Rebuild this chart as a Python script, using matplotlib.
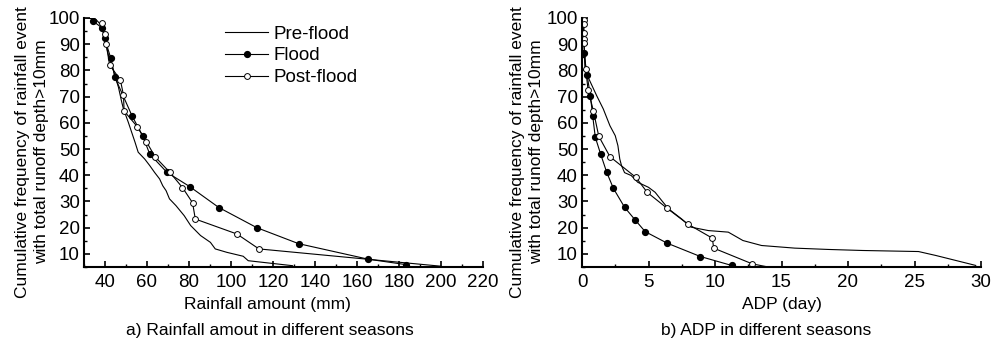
import matplotlib
matplotlib.use("Agg")
import matplotlib.pyplot as plt
from matplotlib.ticker import MultipleLocator

plt.rcParams['font.family'] = ['Liberation Sans', 'DejaVu Sans']
plt.rcParams['font.size'] = 12.5

# a) rainfall amount (mm) vs cumulative frequency (%)
rain_pre_x = [30.8, 35.5, 38.5, 41.7, 44.0, 46.4, 48.0, 48.8, 51.1, 52.7, 54.3, 55.8,
              58.9, 61.3, 63.6, 66.0, 67.5, 69.1, 70.7, 73.8, 77.7, 80.8, 85.5, 90.2,
              92.5, 98.0, 105.8, 108.2, 129.3]
rain_pre_y = [100.0, 99.6, 97.0, 85.6, 80.0, 73.6, 67.8, 65.3, 60.2, 56.4, 52.6, 48.8,
              46.2, 43.7, 41.1, 38.6, 36.0, 34.1, 31.0, 28.4, 24.6, 20.8, 17.0, 14.4,
              11.9, 10.6, 9.1, 7.4, 5.5]

rain_flood_x = [34.5, 38.8, 39.8, 42.8, 44.7, 52.8, 58.0, 61.3, 69.5, 80.3, 94.2,
                112.3, 132.2, 165.2, 183.3]
rain_flood_y = [98.7, 96.1, 92.2, 84.6, 77.4, 62.8, 54.9, 48.1, 41.1, 35.7, 27.7,
                20.0, 13.9, 8.0, 5.9]

rain_post_x = [38.8, 39.8, 40.5, 42.2, 47.3, 48.8, 49.1, 55.3, 59.7, 63.9, 70.9, 76.9,
               81.7, 83.0, 102.8, 113.3]
rain_post_y = [98.1, 93.9, 90.2, 82.1, 76.4, 70.6, 64.5, 58.6, 52.8, 47.0, 41.1, 35.3,
               29.5, 23.3, 17.6, 11.9]
rain_post_tail_x = [113.3, 200.0]
rain_post_tail_y = [11.9, 5.3]

# b) ADP (day) vs cumulative frequency (%)
adp_pre_x = [0.0, 0.08, 0.23, 0.45, 1.1, 1.6, 2.1, 2.5, 2.7, 2.84, 2.97, 3.2, 3.7, 4.2,
             5.0, 5.5, 6.0, 6.5, 7.5, 8.2, 9.5, 11.0, 12.1, 13.5, 16.0, 18.5, 21.1,
             25.3, 26.6, 29.6]
adp_pre_y = [100.0, 98.3, 79.9, 77.5, 70.4, 65.3, 58.9, 55.1, 51.3, 46.2, 43.7, 41.0,
             39.9, 37.3, 35.4, 33.5, 30.3, 27.2, 23.3, 20.2, 18.9, 18.3, 15.1, 13.2,
             12.2, 11.7, 11.3, 10.9, 9.4, 5.6]

adp_flood_x = [0.15, 0.38, 0.63, 0.8, 1.0, 1.4, 1.86, 2.36, 3.2, 3.97, 4.75, 6.4, 8.9,
               11.25]
adp_flood_y = [86.5, 78.3, 70.4, 62.8, 54.5, 48.1, 41.1, 35.0, 27.8, 23.1, 18.5, 14.1,
               9.0, 5.6]

adp_post_x = [0.15, 0.15, 0.15, 0.15, 0.15, 0.28, 0.45, 0.85, 1.26, 2.1, 4.05, 4.9, 6.4,
              7.95, 9.8, 9.9, 12.8]
adp_post_y = [99.4, 97.8, 94.2, 92.0, 90.3, 80.6, 72.7, 64.7, 54.9, 47.1, 39.2, 33.5,
              27.4, 21.4, 16.0, 12.2, 6.2]
adp_post_tail_x = [12.8, 13.8]
adp_post_tail_y = [6.2, 5.2]

W, H = 995, 348
fig = plt.figure(figsize=(W / 100, H / 100), dpi=100)

ax1 = fig.add_axes([84 / W, 1 - 267 / H, 399 / W, 249 / H])
ax2 = fig.add_axes([582 / W, 1 - 267 / H, 399 / W, 249 / H])

lw = 0.8
ms = 4.2

ax1.plot(rain_pre_x, rain_pre_y, color='black', lw=lw, label='Pre-flood')
ax1.plot(rain_flood_x, rain_flood_y, color='black', lw=lw, marker='o', ms=ms,
         mfc='black', mec='black', label='Flood')
ax1.plot(rain_post_tail_x, rain_post_tail_y, color='black', lw=lw)
ax1.plot(rain_post_x, rain_post_y, color='black', lw=lw, marker='o', ms=ms,
         mfc='white', mec='black', mew=0.7, label='Post-flood')

ax2.plot(adp_pre_x, adp_pre_y, color='black', lw=lw)
ax2.plot(adp_flood_x, adp_flood_y, color='black', lw=lw, marker='o', ms=ms,
         mfc='black', mec='black')
ax2.plot(adp_post_tail_x, adp_post_tail_y, color='black', lw=lw)
ax2.plot(adp_post_x, adp_post_y, color='black', lw=lw, marker='o', ms=ms,
         mfc='white', mec='black', mew=0.7)

ax1.set_xlim(30, 220)
ax1.xaxis.set_major_locator(MultipleLocator(20))
ax1.xaxis.set_minor_locator(MultipleLocator(10))
ax2.set_xlim(0, 30)
ax2.xaxis.set_major_locator(MultipleLocator(5))
ax2.xaxis.set_minor_locator(MultipleLocator(2.5))

for ax in (ax1, ax2):
    ax.set_ylim(5, 100)
    ax.set_yticks(range(10, 101, 10))
    ax.yaxis.set_minor_locator(MultipleLocator(5))
    ax.spines['top'].set_visible(False)
    ax.spines['right'].set_visible(False)
    ax.spines['left'].set_linewidth(1.5)
    ax.spines['bottom'].set_linewidth(1.5)
    ax.tick_params(which='major', direction='in', length=4, width=1.2,
                   labelsize=13.5, pad=5)
    ax.tick_params(which='minor', direction='in', length=2.5, width=1.0)
    ax.tick_params(axis='y', pad=3)
    ax.tick_params(top=False, right=False)

ax1.set_xlabel('Rainfall amount (mm)')
ax1.xaxis.set_label_coords(0.459, -0.12)
ax2.set_xlabel('ADP (day)')
ax2.xaxis.set_label_coords(0.5, -0.12)

ylab = 'Cumulative frequency of rainfall event\nwith total runoff depth>10mm'
fig.text(32 / W, 1 - 152 / H, ylab, rotation=90, ha='center', va='center',
         multialignment='center', linespacing=1.35)
fig.text(527 / W, 1 - 152 / H, ylab, rotation=90, ha='center', va='center',
         multialignment='center', linespacing=1.35)

fig.text(270 / W, 1 - 330 / H, 'a) Rainfall amout in different seasons',
         ha='center', va='center')
fig.text(766 / W, 1 - 330 / H, 'b) ADP in different seasons',
         ha='center', va='center')

ax1.legend(loc='upper left', bbox_to_anchor=(0.335, 1.0), frameon=False,
           handlelength=2.3, handletextpad=0.3, labelspacing=0.25,
           borderaxespad=0.0, fontsize=13.5)

fig.savefig('out.png', dpi=100)
